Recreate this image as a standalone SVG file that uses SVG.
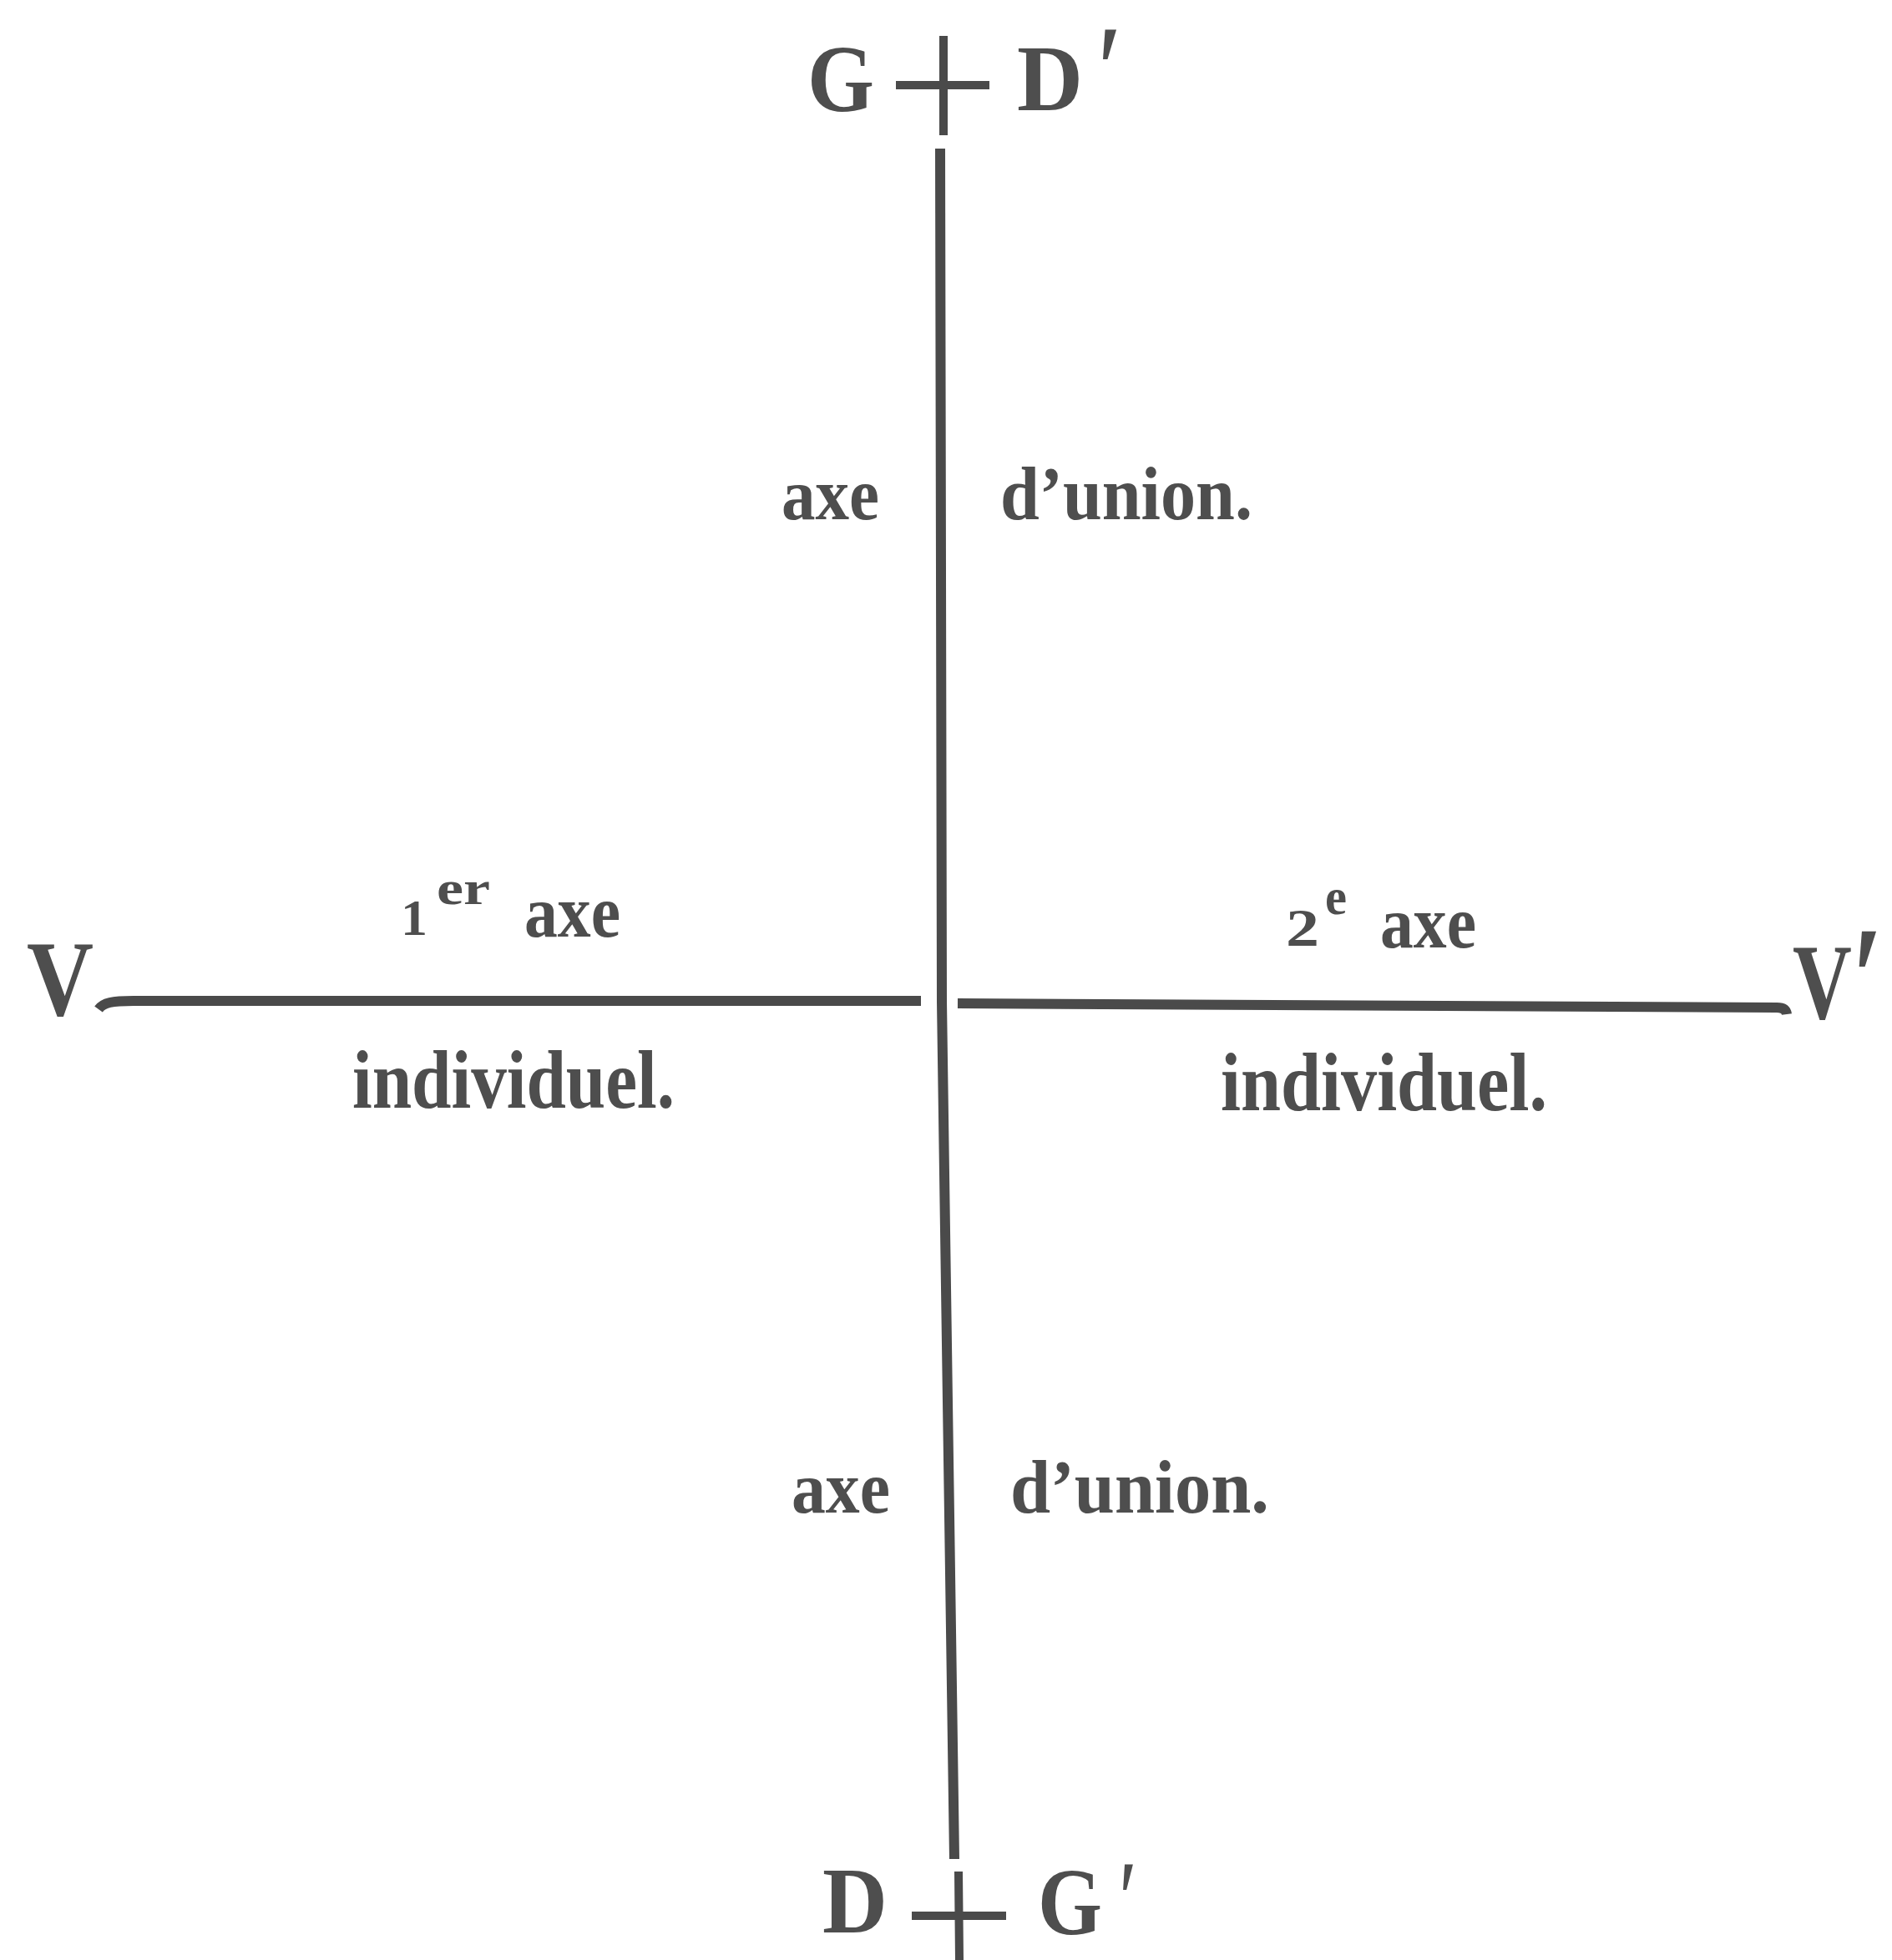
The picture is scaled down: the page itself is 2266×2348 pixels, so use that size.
<svg xmlns="http://www.w3.org/2000/svg" width="2266" height="2348" viewBox="0 0 2266 2348">
<style>
.t{font-family:"Liberation Serif","Times New Roman",serif;font-weight:bold;fill:#4e4e4e}
.ln{fill:none;stroke:#4a4a4a;stroke-width:12;stroke-linecap:butt}
.thin{fill:none;stroke:#4a4a4a;stroke-width:10}
</style>
<rect x="0" y="0" width="2266" height="2348" fill="#ffffff"/>
<g id="connectors">
<path class="ln" d="M1126,178 L1128,1200 L1143,2227"/>
<path class="ln" d="M118,1209 C124,1201 134,1199 160,1199 L1103,1199"/>
<path class="ln" d="M1147,1202 L2128,1207 Q2139,1207 2140,1215"/>
<path class="thin" d="M1130,43 L1130,162 M1073,102 L1185,102"/>
<path class="thin" d="M1148,2242 L1149,2348 M1092,2295 L1205,2295"/>
</g>
<g id="node-top">
<text class="t" x="967" y="133" font-size="115" textLength="80" lengthAdjust="spacingAndGlyphs">G</text>
<text class="t" x="1218" y="132" font-size="112" textLength="79" lengthAdjust="spacingAndGlyphs">D</text>
<text class="t" x="1314" y="134" font-size="150" textLength="30" lengthAdjust="spacingAndGlyphs">′</text>
</g>
<g id="node-bottom">
<text class="t" x="985" y="2315" font-size="112" textLength="78" lengthAdjust="spacingAndGlyphs">D</text>
<text class="t" x="1243" y="2317" font-size="115" textLength="77" lengthAdjust="spacingAndGlyphs">G</text>
<text class="t" x="1340" y="2318" font-size="130" textLength="22" lengthAdjust="spacingAndGlyphs">′</text>
</g>
<g id="node-left">
<text class="t" x="32" y="1216" font-size="130" textLength="80" lengthAdjust="spacingAndGlyphs">V</text>
</g>
<g id="node-right">
<text class="t" x="2147" y="1220" font-size="130" textLength="109" lengthAdjust="spacingAndGlyphs">V<tspan font-size="180" dy="14">′</tspan></text>
</g>
<g id="label-axe-top">
<text class="t" x="936" y="622" font-size="88" textLength="117" lengthAdjust="spacingAndGlyphs">axe</text>
<text class="t" x="1198" y="622" font-size="90" textLength="302" lengthAdjust="spacingAndGlyphs">d’union.</text>
</g>
<g id="label-axe-bottom">
<text class="t" x="948" y="1812" font-size="88" textLength="118" lengthAdjust="spacingAndGlyphs">axe</text>
<text class="t" x="1210" y="1812" font-size="90" textLength="310" lengthAdjust="spacingAndGlyphs">d’union.</text>
</g>
<g id="label-first">
<text class="t" x="480" y="1120" font-size="62" textLength="32" lengthAdjust="spacingAndGlyphs">1</text>
<text class="t" x="523" y="1083" font-size="58" textLength="64" lengthAdjust="spacingAndGlyphs">er</text>
<text class="t" x="628" y="1122" font-size="88" textLength="115" lengthAdjust="spacingAndGlyphs">axe</text>
<text class="t" x="422" y="1327" font-size="100" textLength="386" lengthAdjust="spacingAndGlyphs">individuel.</text>
</g>
<g id="label-second">
<text class="t" x="1540" y="1133" font-size="64" textLength="40" lengthAdjust="spacingAndGlyphs">2</text>
<text class="t" x="1587" y="1095" font-size="62" textLength="26" lengthAdjust="spacingAndGlyphs">e</text>
<text class="t" x="1653" y="1135" font-size="88" textLength="115" lengthAdjust="spacingAndGlyphs">axe</text>
<text class="t" x="1462" y="1330" font-size="100" textLength="391" lengthAdjust="spacingAndGlyphs">individuel.</text>
</g>
</svg>
